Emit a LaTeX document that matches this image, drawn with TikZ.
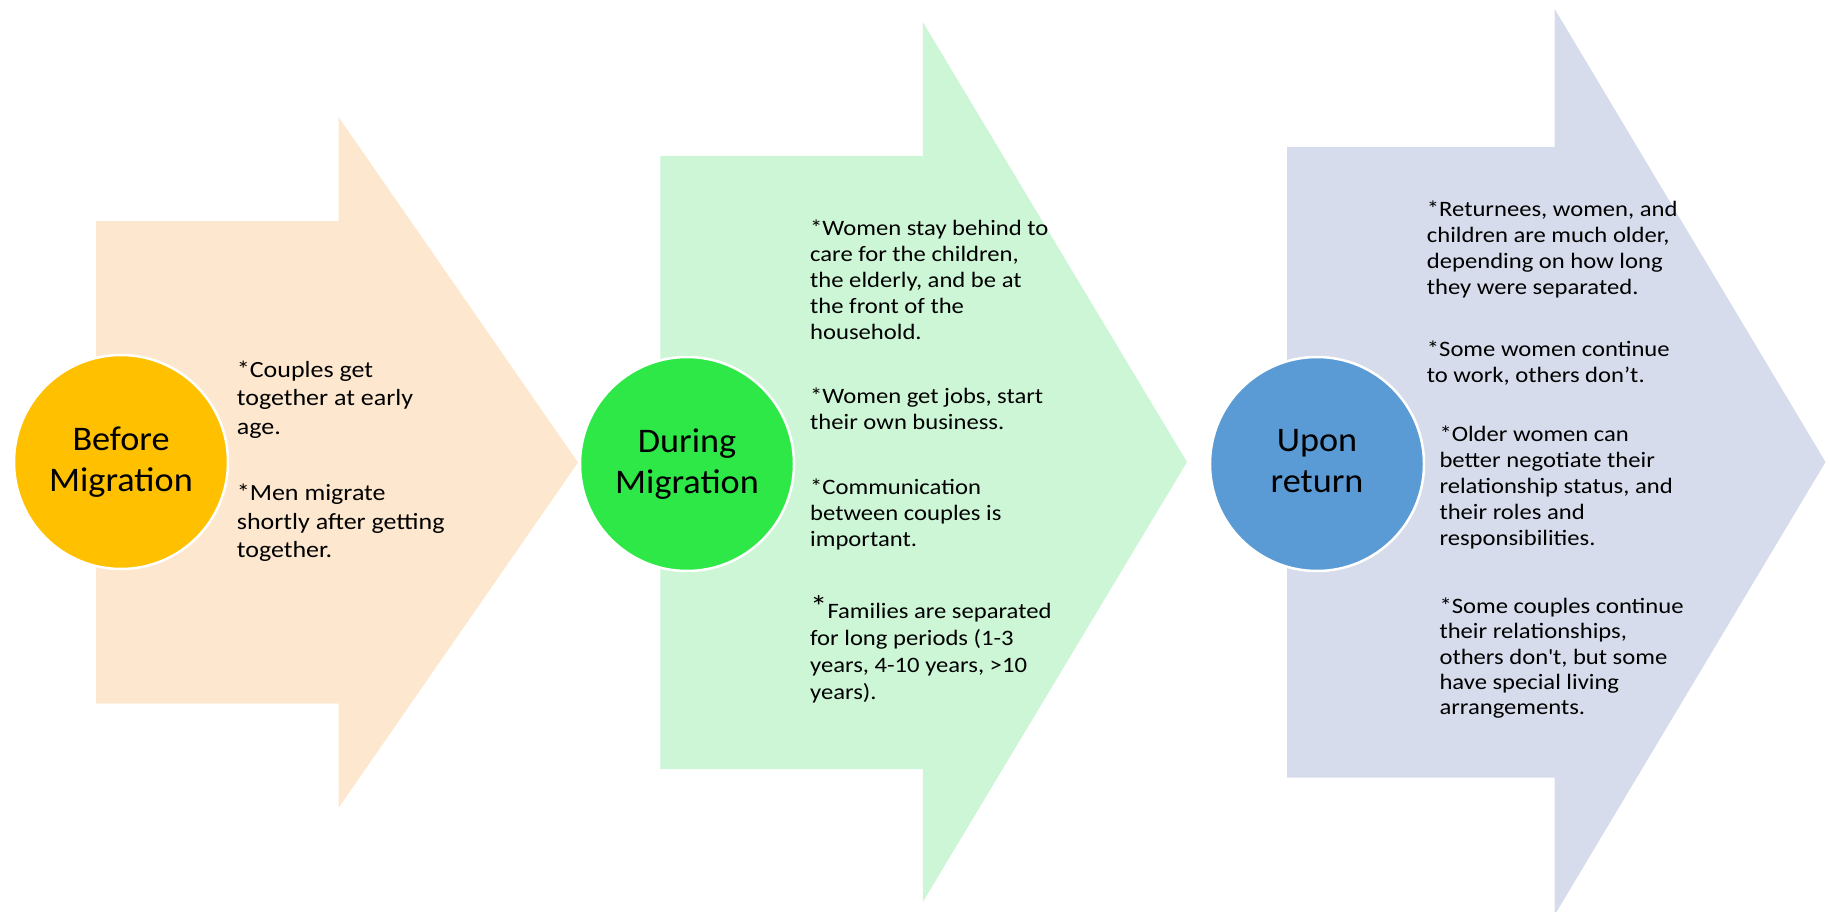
\documentclass[tikz,border=0pt]{standalone}
\usepackage{fontspec}
\setmainfont{Carlito}[FakeStretch=1.12]
\newfontfamily\titlefont{Carlito}[FakeStretch=1.05]
\usetikzlibrary{shapes.geometric}
\definecolor{arrorange}{HTML}{FDE8CF}
\definecolor{arrgreen}{HTML}{CDF6D6}
\definecolor{arrblue}{HTML}{D6DCEB}
\definecolor{circorange}{HTML}{FFC000}
\definecolor{circgreen}{HTML}{2EE848}
\definecolor{circblue}{HTML}{5B9BD5}
\tikzset{
  stage/.style={circle, draw=white, line width=2.5pt, minimum size=214pt, inner sep=0pt,
    align=center, font=\titlefont\fontsize{34.5}{41.7}\selectfont, text=black},
  bodytxt/.style={anchor=north west, inner sep=0pt, align=left, text=black},
  bigtxt/.style={bodytxt, font=\fontsize{23.2}{28.3}\selectfont},
  smalltxt/.style={bodytxt, font=\fontsize{22}{26}\selectfont},
}
\begin{document}
\begin{tikzpicture}[x=1pt,y=-1pt]
\path[use as bounding box] (0,0) rectangle (1830,912);
\clip (0,0) rectangle (1830,912);
% arrows
\fill[arrorange] (96,221) -- (338.5,221) -- (338.5,117) -- (578,462.5) -- (338.5,808) -- (338.5,703.5) -- (96,703.5) -- cycle;
\fill[arrgreen] (660.4,156) -- (922.8,156) -- (922.8,22) -- (1187,462) -- (922.8,902) -- (922.8,769) -- (660.4,769) -- cycle;
\fill[arrblue] (1287,147) -- (1554.5,147) -- (1554.5,8.7) -- (1825.5,462) -- (1554.5,915.3) -- (1554.5,777.6) -- (1287,777.6) -- cycle;
% circles
\node[stage, fill=circorange] (before) at (121,462) {Before\\Migration};
\node[stage, fill=circgreen] (during) at (687,464) {During\\Migration};
\node[stage, fill=circblue] (upon) at (1317,464) {Upon\\return\vphantom{g}};
% orange texts
\node[bigtxt] (o1) at (236.7,357.5) {\strut*Couples get\\together at early\\age.};
\node[bigtxt] (o2) at (236.7,480.9) {\strut*Men migrate\\shortly after getting\\together.};
% green texts
\node[smalltxt] (g1) at (810,216.8) {\strut*Women stay behind to\\care for the children,\\the elderly, and be at\\the front of the\\household.};
\node[smalltxt] (g2) at (810,385.1) {\strut*Women get jobs, start\\their own business.};
\node[smalltxt] (g3) at (810,475.8) {\strut*Communication\\between couples is\\important.};
\node[bodytxt, font=\fontsize{22}{26.9}\selectfont] (g4) at (810,599.5) {\strut\smash{\raisebox{1pt}{\fontsize{31}{31}\selectfont *}}Families are separated\\for long periods (1-3\\years, 4-10 years, >10\\years).};
% blue texts
\node[smalltxt] (b1) at (1426.7,197.8) {\strut*Returnees, women, and\\children are much older,\\depending on how long\\they were separated.};
\node[smalltxt] (b2) at (1426.7,338.5) {\strut*Some women continue\\to work, others don’t.};
\node[bodytxt, font=\fontsize{22}{25.8}\selectfont] (b3) at (1439.3,423.6) {\strut*Older women can\\better negotiate their\\relationship status, and\\their roles and\\responsibilities.};
\node[bodytxt, font=\fontsize{22}{25.3}\selectfont] (b4) at (1439.3,595.6) {\strut*Some couples continue\\their relationships,\\others don\textquotesingle t, but some\\have special living\\arrangements.};
\end{tikzpicture}
\end{document}
